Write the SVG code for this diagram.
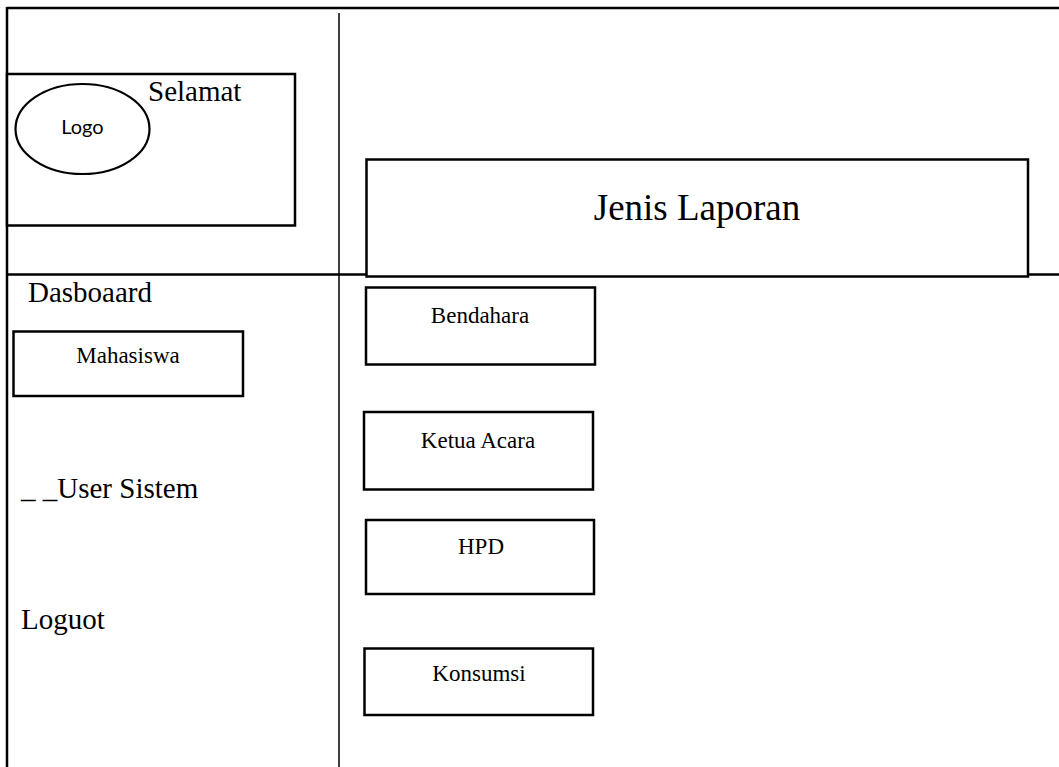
<svg xmlns="http://www.w3.org/2000/svg" width="1059" height="767" viewBox="0 0 1059 767">
<style>
.box{fill:#fff;stroke:#000;stroke-width:2.5}
.ln{stroke:#000;fill:none}
.t{font-family:"Liberation Serif","Times New Roman",serif;fill:#000}
.big{font-size:29px}
.sm{font-size:23px;text-anchor:middle}
</style>
<rect width="1059" height="767" fill="#fff"/>
<g id="frame">
<line class="ln" x1="7" y1="8" x2="1059" y2="8" stroke-width="2.5"/>
<line class="ln" x1="7" y1="7" x2="7" y2="767" stroke-width="2.5"/>
<line class="ln" x1="7" y1="274.5" x2="1059" y2="274.5" stroke-width="2.5"/>
<line class="ln" x1="339" y1="13" x2="339" y2="767" stroke-width="1.5"/>
</g>
<g id="header">
<rect class="box" x="7" y="74" width="288" height="151.5"/>
<ellipse cx="82.5" cy="129" rx="67" ry="45" fill="#fff" stroke="#000" stroke-width="2.2"/>
<text x="82.5" y="134" font-family="Lato,'Open Sans',sans-serif" font-size="20" text-anchor="middle">Logo</text>
<text class="t big" x="148" y="101">Selamat</text>
</g>
<g id="jenis">
<rect class="box" x="366.5" y="159.5" width="661.5" height="117"/>
<text class="t" x="697" y="220" font-size="37" text-anchor="middle">Jenis Laporan</text>
</g>
<g id="menu">
<text class="t big" x="28" y="302">Dasboaard</text>
<text class="t big" x="21" y="498">_ _User Sistem</text>
<text class="t big" x="21" y="629">Loguot</text>
</g>
<g id="mahasiswa">
<rect class="box" x="13.5" y="331.5" width="229.5" height="64.5"/>
<text class="t sm" x="128" y="363">Mahasiswa</text>
</g>
<g id="bendahara">
<rect class="box" x="366" y="287.5" width="229" height="77"/>
<text class="t sm" x="480" y="323">Bendahara</text>
</g>
<g id="ketua">
<rect class="box" x="364" y="412" width="229" height="77.5"/>
<text class="t sm" x="478" y="448">Ketua Acara</text>
</g>
<g id="hpd">
<rect class="box" x="366" y="520" width="228" height="74"/>
<text class="t sm" x="481" y="554">HPD</text>
</g>
<g id="konsumsi">
<rect class="box" x="364.5" y="648.5" width="228.5" height="66.5"/>
<text class="t sm" x="479" y="681">Konsumsi</text>
</g>
<g id="connectors"></g>
</svg>
